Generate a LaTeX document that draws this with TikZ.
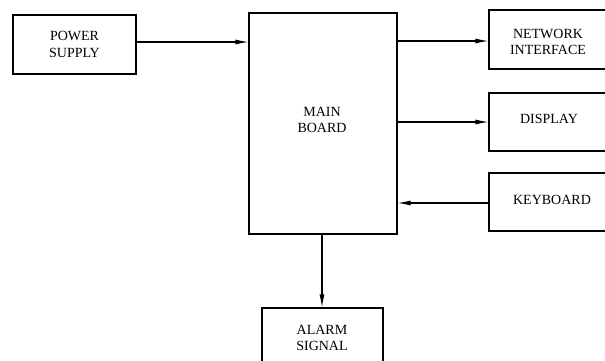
\documentclass[tikz,border=0pt]{standalone}
\usepackage{fontspec}
\setmainfont{Liberation Serif}
\usetikzlibrary{arrows.meta}
\begin{document}
\begin{tikzpicture}[x=1pt,y=-1pt,
  txt/.style={align=center,font=\fontsize{14}{16.5}\selectfont},
  blk/.style={draw,line width=1.1pt,inner sep=0pt,align=center,font=\fontsize{14}{16.5}\selectfont},
  arr/.style={line width=1.1pt,-{Latex[length=13pt,width=5pt]}}]
\clip (0,0) rectangle (605,360);
\fill[white] (0,0) rectangle (605,360);
\node[blk,minimum width=123pt,minimum height=59pt] (ps) at (74.5,44.5) {POWER\\SUPPLY};
\node[blk,minimum width=148pt,minimum height=221pt] (mb) at (323,123.5) {};
\node[txt] (mbt) at (322,120) {MAIN\\BOARD};
\node[blk,minimum width=130pt,minimum height=59pt] (ni) at (554,39.5) {};
\node[txt] (nit) at (548,42) {NETWORK\\INTERFACE};
\node[blk,minimum width=130pt,minimum height=58pt] (di) at (554,122) {};
\node[txt] (dit) at (549,119) {DISPLAY};
\node[blk,minimum width=130pt,minimum height=58pt] (kb) at (554,202) {};
\node[txt] (kbt) at (552,200) {KEYBOARD};
\node[blk,minimum width=121pt,minimum height=70pt] (al) at (322.5,343) {};
\node[txt] (alt) at (322,338) {ALARM\\SIGNAL};
\draw[arr] (ps.east |- 0,42) -- (mb.west |- 0,42);
\draw[arr] (mb.east |- 0,41) -- (ni.west |- 0,41);
\draw[arr] (mb.east |- 0,122) -- (di.west |- 0,122);
\draw[arr] (kb.west |- 0,203) -- (mb.east |- 0,203);
\draw[arr] (mb.south -| 322,0) -- (al.north -| 322,0);
\end{tikzpicture}
\end{document}
